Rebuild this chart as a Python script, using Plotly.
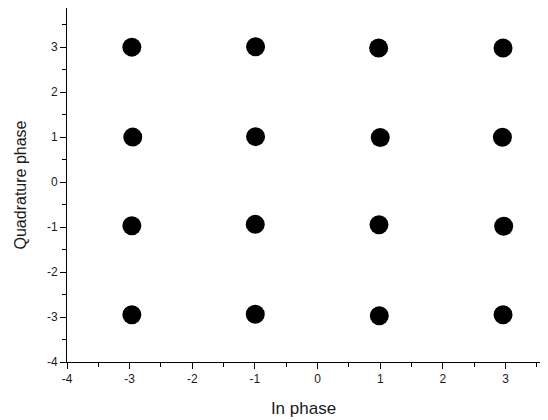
import plotly.graph_objects as go

# Cluster centres of the 16-QAM constellation
in_phase = [-2.965, -0.99, 0.974, 2.96,
            -2.95, -0.99, 1.0, 2.95,
            -2.965, -0.995, 0.98, 2.97,
            -2.965, -0.995, 0.985, 2.96]
quadrature = [3.0, 3.01, 2.98, 2.98,
              1.0, 1.01, 0.99, 0.995,
              -0.97, -0.94, -0.95, -0.98,
              -2.95, -2.94, -2.97, -2.95]

x_ticks = [-4, -3, -2, -1, 0, 1, 2, 3]
y_ticks = [-4, -3, -2, -1, 0, 1, 2, 3]

fig = go.Figure()
fig.add_trace(go.Scatter(
    x=in_phase, y=quadrature, mode="markers",
    marker=dict(color="black", size=19, line=dict(width=0)),
    showlegend=False, hoverinfo="x+y"))

font = dict(family="Liberation Sans, Arial, sans-serif", color="#1a1a1a")

axis_common = dict(
    showline=True, linecolor="black", linewidth=1, mirror=False,
    showgrid=False, zeroline=False, automargin=False,
    ticks="outside", ticklen=6, tickwidth=1, tickcolor="black",
    tickfont=dict(size=12, **font),
    minor=dict(ticks="outside", ticklen=4, tickwidth=1, tickcolor="black",
               dtick=0.5, showgrid=False),
)

# the page body has an 8px margin, so the figure is 8px smaller and offset
fig.update_layout(
    width=540, height=412,
    margin=dict(l=59, r=8, t=0, b=58),
    paper_bgcolor="white", plot_bgcolor="white",
    font=dict(family="Liberation Sans, Arial, sans-serif", color="#1a1a1a"),
    xaxis=dict(range=[-4, 3.55], tickvals=x_ticks, ticktext=[str(v) for v in x_ticks],
               title=dict(text="In phase", font=dict(size=17, **font), standoff=16),
               **axis_common),
    yaxis=dict(range=[-4, 3.87], tickvals=y_ticks, ticktext=[str(v) for v in y_ticks],
               title=dict(text="Quadrature phase", font=dict(size=16, **font), standoff=16),
               **axis_common),
)

fig.write_html("out.html")
